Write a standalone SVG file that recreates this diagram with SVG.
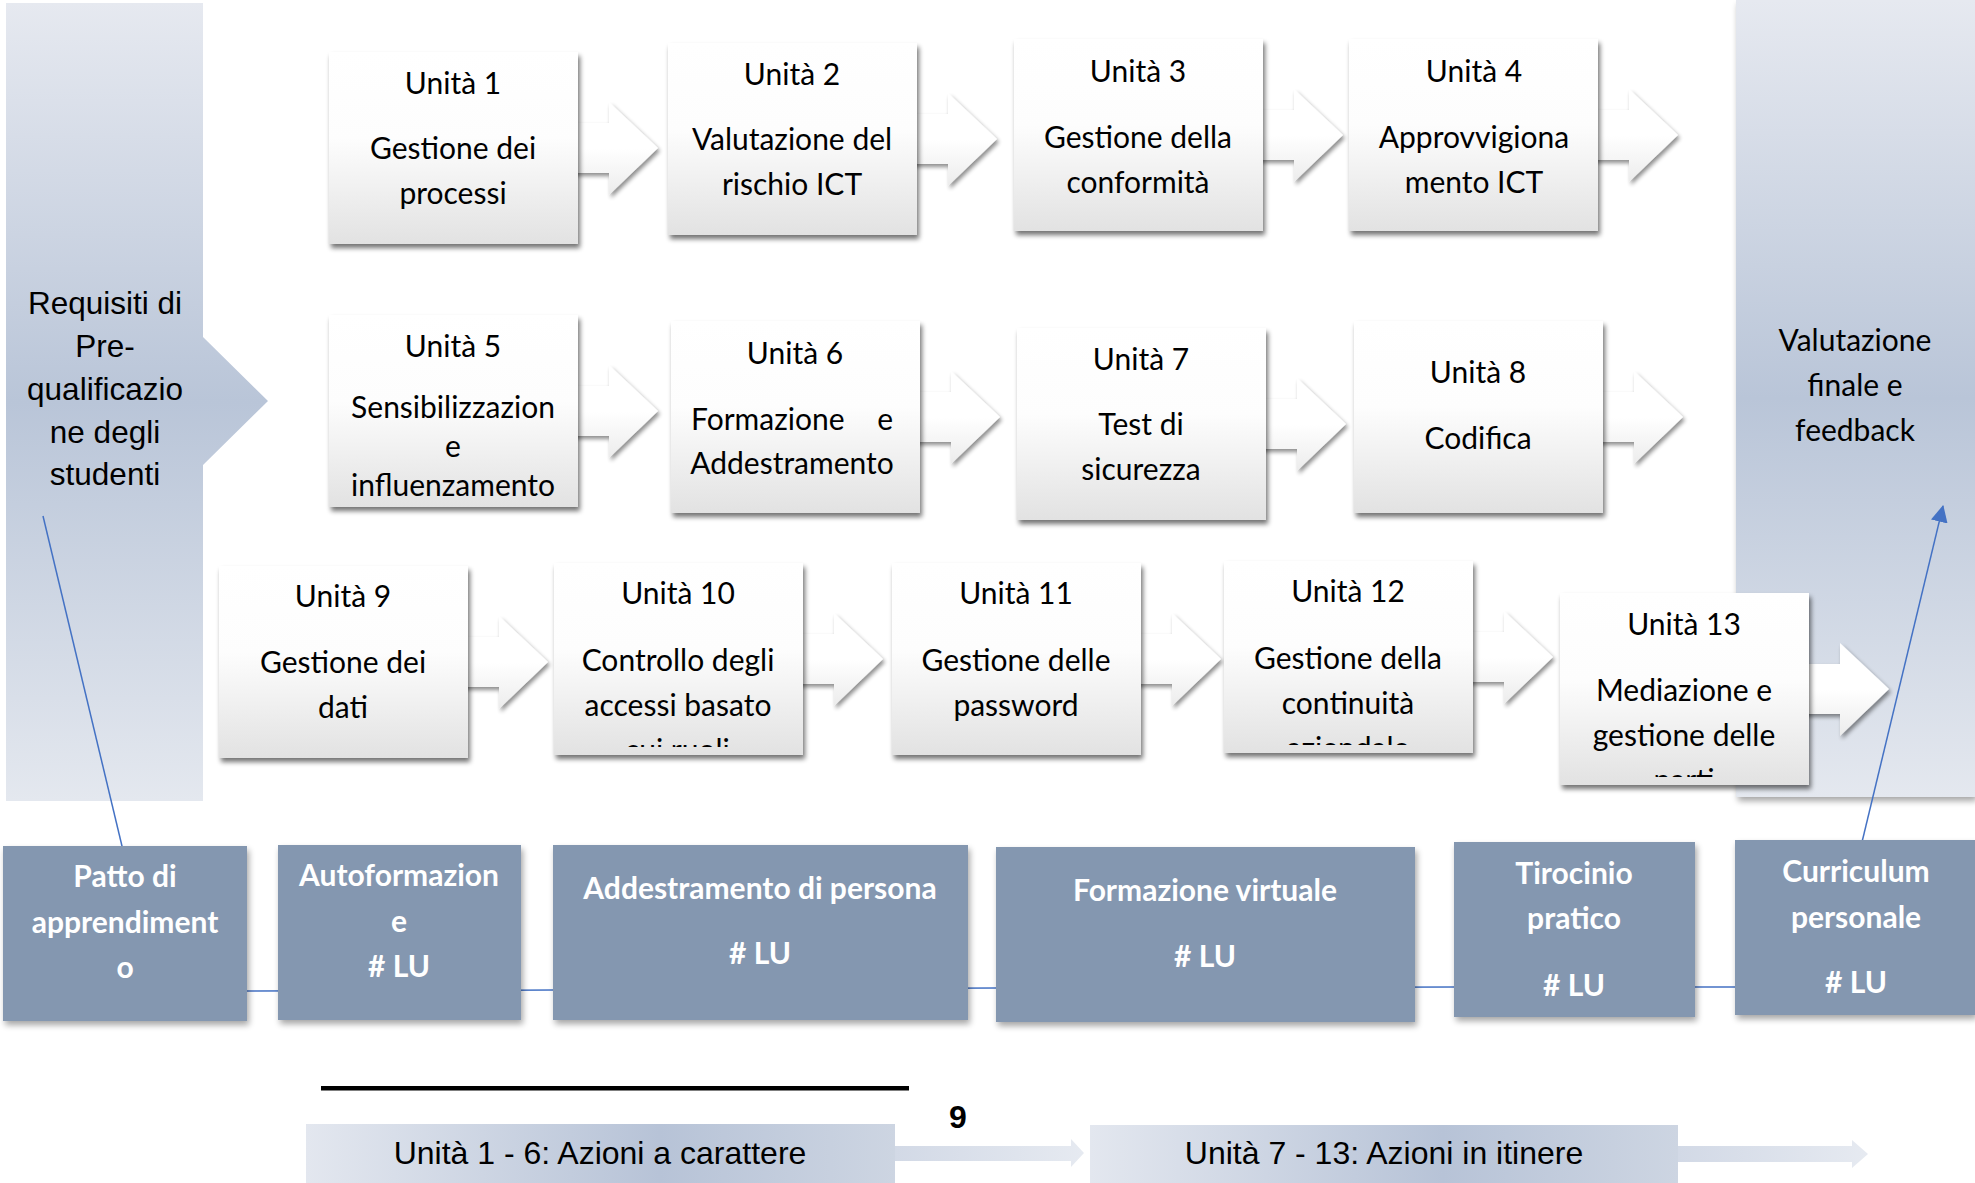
<svg xmlns="http://www.w3.org/2000/svg" width="1975" height="1183" viewBox="0 0 1975 1183">
<style>
.box{fill:url(#boxGrad);filter:url(#shadow);}
.barrow{fill:url(#arrowGrad);filter:url(#shadowArrow);}
.ut{font-family:Lato,"Open Sans",sans-serif;font-size:30px;fill:#000;text-anchor:middle;dominant-baseline:central;}
.pt{font-family:"Liberation Sans",Arial,sans-serif;font-size:31.5px;fill:#000;text-anchor:middle;dominant-baseline:central;}
.bt{font-family:Lato,"Open Sans",sans-serif;font-size:30px;font-weight:bold;fill:#fff;text-anchor:middle;dominant-baseline:central;}
.slate{fill:#8497b0;filter:url(#shadowSoft);}
.ft{font-family:"Liberation Sans",Arial,sans-serif;font-size:32px;fill:#000;text-anchor:middle;dominant-baseline:central;}
.conn{stroke:#4472c4;stroke-width:1.5;fill:none;}
</style>
<defs>
<linearGradient id="boxGrad" x1="0" y1="0" x2="0" y2="1">
<stop offset="0" stop-color="#ffffff"/>
<stop offset="0.45" stop-color="#fdfdfd"/>
<stop offset="1" stop-color="#e2e2e2"/>
</linearGradient>
<linearGradient id="arrowGrad" x1="0" y1="0" x2="0" y2="1">
<stop offset="0" stop-color="#ffffff"/>
<stop offset="0.5" stop-color="#ffffff"/>
<stop offset="1" stop-color="#ececec"/>
</linearGradient>
<linearGradient id="panelGrad" x1="0" y1="0" x2="0" y2="1">
<stop offset="0" stop-color="#e6e9f0"/>
<stop offset="0.5" stop-color="#b9c5d8"/>
<stop offset="1" stop-color="#e4e8ef"/>
</linearGradient>
<linearGradient id="barGrad" x1="0" y1="0" x2="1" y2="0">
<stop offset="0" stop-color="#e3e7ef"/>
<stop offset="0.6" stop-color="#b7c3d7"/>
<stop offset="1" stop-color="#cdd5e2"/>
</linearGradient>
<linearGradient id="lightArrowGrad" x1="0" y1="0" x2="1" y2="0">
<stop offset="0" stop-color="#d2d9e6"/>
<stop offset="1" stop-color="#e6eaf1"/>
</linearGradient>
<filter id="shadow" x="-10%" y="-10%" width="125%" height="130%">
<feGaussianBlur in="SourceAlpha" stdDeviation="2.5"/>
<feOffset dx="2" dy="4" result="o"/>
<feComponentTransfer><feFuncA type="linear" slope="0.55"/></feComponentTransfer>
<feMerge><feMergeNode/><feMergeNode in="SourceGraphic"/></feMerge>
</filter>
<filter id="shadowArrow" x="-15%" y="-15%" width="135%" height="140%">
<feGaussianBlur in="SourceAlpha" stdDeviation="2"/>
<feOffset dx="2" dy="3" result="o"/>
<feComponentTransfer><feFuncA type="linear" slope="0.45"/></feComponentTransfer>
<feMerge><feMergeNode/><feMergeNode in="SourceGraphic"/></feMerge>
</filter>
<filter id="shadowSoft" x="-10%" y="-10%" width="125%" height="130%">
<feGaussianBlur in="SourceAlpha" stdDeviation="3"/>
<feOffset dx="2" dy="4" result="o"/>
<feComponentTransfer><feFuncA type="linear" slope="0.35"/></feComponentTransfer>
<feMerge><feMergeNode/><feMergeNode in="SourceGraphic"/></feMerge>
</filter>
<marker id="arrowBig" viewBox="0 0 16 16" refX="15" refY="8" markerWidth="17" markerHeight="17" markerUnits="userSpaceOnUse" orient="auto">
<path d="M0,0 L16,8 L0,16 z" fill="#4472c4"/>
</marker>
<clipPath id="clip10"><rect x="554" y="563" width="249" height="184"/></clipPath>
<clipPath id="clip12"><rect x="1224" y="561" width="249" height="184"/></clipPath>
<clipPath id="clip13"><rect x="1560" y="593" width="249" height="184"/></clipPath>
</defs>

<rect x="0" y="0" width="1975" height="1183" fill="#ffffff"/>

<!-- side panels -->
<g id="prerequisiti">
<polygon points="6,3 203,3 203,337 268,401 203,465 203,801 6,801" fill="url(#panelGrad)"/>
<text class="pt"><tspan x="105" y="303">Requisiti di</tspan><tspan x="105" y="346">Pre-</tspan><tspan x="105" y="389">qualificazio</tspan><tspan x="105" y="432">ne degli</tspan><tspan x="105" y="474">studenti</tspan></text>
</g>
<g id="valutazione-finale">
<rect x="1736" y="0" width="239" height="797" fill="url(#panelGrad)" filter="url(#shadowSoft)"/>
<text class="ut"><tspan x="1855" y="339">Valutazione</tspan><tspan x="1855" y="384">finale e</tspan><tspan x="1855" y="429">feedback</tspan></text>
</g>

<!-- block arrows between units -->
<g id="flow-arrows">
<polygon class="barrow" points="559,123 609,123 609,102 658,148 609,195 609,173 559,173"/>
<polygon class="barrow" points="898,114 948,114 948,93 997,139 948,186 948,164 898,164"/>
<polygon class="barrow" points="1244,110 1294,110 1294,89 1343,135 1294,182 1294,160 1244,160"/>
<polygon class="barrow" points="1579,110 1629,110 1629,89 1678,135 1629,182 1629,160 1579,160"/>
<polygon class="barrow" points="559,386 609,386 609,365 658,411 609,458 609,436 559,436"/>
<polygon class="barrow" points="901,392 951,392 951,371 1000,417 951,464 951,442 901,442"/>
<polygon class="barrow" points="1247,399 1297,399 1297,378 1346,424 1297,471 1297,449 1247,449"/>
<polygon class="barrow" points="1584,392 1634,392 1634,371 1683,417 1634,464 1634,442 1584,442"/>
<polygon class="barrow" points="449,637 499,637 499,616 548,662 499,709 499,687 449,687"/>
<polygon class="barrow" points="784,634 834,634 834,613 883,659 834,706 834,684 784,684"/>
<polygon class="barrow" points="1122,634 1172,634 1172,613 1221,659 1172,706 1172,684 1122,684"/>
<polygon class="barrow" points="1454,632 1504,632 1504,611 1553,657 1504,704 1504,682 1454,682"/>
<polygon class="barrow" points="1790,664 1840,664 1840,643 1889,689 1840,736 1840,714 1790,714"/>
</g>

<!-- unit boxes -->
<g id="unit1"><rect class="box" x="329" y="52" width="249" height="192"/>
<text class="ut"><tspan x="453" y="82">Unità 1</tspan><tspan x="453" y="147">Gestione dei</tspan><tspan x="453" y="192">processi</tspan></text></g>
<g id="unit2"><rect class="box" x="668" y="43" width="249" height="192"/>
<text class="ut"><tspan x="792" y="73">Unità 2</tspan><tspan x="792" y="138">Valutazione del</tspan><tspan x="792" y="183">rischio ICT</tspan></text></g>
<g id="unit3"><rect class="box" x="1014" y="39" width="249" height="192"/>
<text class="ut"><tspan x="1138" y="70">Unità 3</tspan><tspan x="1138" y="136">Gestione della</tspan><tspan x="1138" y="181">conformità</tspan></text></g>
<g id="unit4"><rect class="box" x="1349" y="39" width="249" height="192"/>
<text class="ut"><tspan x="1474" y="70">Unità 4</tspan><tspan x="1474" y="136">Approvvigiona</tspan><tspan x="1474" y="181">mento ICT</tspan></text></g>

<g id="unit5"><rect class="box" x="329" y="315" width="249" height="192"/>
<text class="ut"><tspan x="453" y="345">Unità 5</tspan><tspan x="453" y="406">Sensibilizzazion</tspan><tspan x="453" y="445">e</tspan><tspan x="453" y="484">influenzamento</tspan></text></g>
<g id="unit6"><rect class="box" x="671" y="321" width="249" height="192"/>
<text class="ut"><tspan x="795" y="352">Unità 6</tspan><tspan x="691" y="418" text-anchor="start">Formazione</tspan><tspan x="893" y="418" text-anchor="end">e</tspan><tspan x="792" y="462">Addestramento</tspan></text></g>
<g id="unit7"><rect class="box" x="1017" y="328" width="249" height="192"/>
<text class="ut"><tspan x="1141" y="358">Unità 7</tspan><tspan x="1141" y="423">Test di</tspan><tspan x="1141" y="468">sicurezza</tspan></text></g>
<g id="unit8"><rect class="box" x="1354" y="321" width="249" height="192"/>
<text class="ut"><tspan x="1478" y="371">Unità 8</tspan><tspan x="1478" y="437">Codifica</tspan></text></g>

<g id="unit9"><rect class="box" x="219" y="566" width="249" height="192"/>
<text class="ut"><tspan x="343" y="595">Unità 9</tspan><tspan x="343" y="661">Gestione dei</tspan><tspan x="343" y="706">dati</tspan></text></g>
<g id="unit10"><rect class="box" x="554" y="563" width="249" height="192"/>
<text class="ut" clip-path="url(#clip10)"><tspan x="678" y="592">Unità 10</tspan><tspan x="678" y="659">Controllo degli</tspan><tspan x="678" y="704">accessi basato</tspan><tspan x="678" y="749">sui ruoli</tspan></text></g>
<g id="unit11"><rect class="box" x="892" y="563" width="249" height="192"/>
<text class="ut"><tspan x="1016" y="592">Unità 11</tspan><tspan x="1016" y="659">Gestione delle</tspan><tspan x="1016" y="704">password</tspan></text></g>
<g id="unit12"><rect class="box" x="1224" y="561" width="249" height="192"/>
<text class="ut" clip-path="url(#clip12)"><tspan x="1348" y="590">Unità 12</tspan><tspan x="1348" y="657">Gestione della</tspan><tspan x="1348" y="702">continuità</tspan><tspan x="1348" y="747">aziendale</tspan></text></g>
<g id="unit13"><rect class="box" x="1560" y="593" width="249" height="192"/>
<text class="ut" clip-path="url(#clip13)"><tspan x="1684" y="623">Unità 13</tspan><tspan x="1684" y="689">Mediazione e</tspan><tspan x="1684" y="734">gestione delle</tspan><tspan x="1684" y="779">parti</tspan></text></g>

<!-- connectors -->
<g id="connectors">
<polyline class="conn" points="247,991 553,990 996,988 1454,987 1735,987"/>
<line class="conn" x1="43" y1="516" x2="127" y2="867"/>
<line class="conn" x1="1856" y1="867" x2="1943" y2="506" marker-end="url(#arrowBig)"/>
</g>

<!-- learning mode boxes -->
<g id="patto"><rect class="slate" x="3" y="846" width="244" height="175"/>
<text class="bt"><tspan x="125" y="875">Patto di</tspan><tspan x="125" y="921">apprendiment</tspan><tspan x="125" y="966">o</tspan></text></g>
<g id="autoformazione"><rect class="slate" x="278" y="845" width="243" height="175"/>
<text class="bt"><tspan x="399" y="874">Autoformazion</tspan><tspan x="399" y="920">e</tspan><tspan x="399" y="965"># LU</tspan></text></g>
<g id="addestramento"><rect class="slate" x="553" y="845" width="415" height="175"/>
<text class="bt"><tspan x="760" y="887">Addestramento di persona</tspan><tspan x="760" y="952"># LU</tspan></text></g>
<g id="formazione-virtuale"><rect class="slate" x="996" y="847" width="419" height="175"/>
<text class="bt"><tspan x="1205" y="889">Formazione virtuale</tspan><tspan x="1205" y="955"># LU</tspan></text></g>
<g id="tirocinio"><rect class="slate" x="1454" y="842" width="241" height="175"/>
<text class="bt"><tspan x="1574" y="872">Tirocinio</tspan><tspan x="1574" y="917">pratico</tspan><tspan x="1574" y="984"># LU</tspan></text></g>
<g id="curriculum"><rect class="slate" x="1735" y="840" width="240" height="175"/>
<text class="bt"><tspan x="1856" y="870">Curriculum</tspan><tspan x="1856" y="916">personale</tspan><tspan x="1856" y="981"># LU</tspan></text></g>

<!-- footer -->
<rect x="321" y="1086" width="588" height="4.5" fill="#000"/>
<text x="958" y="1117" font-family="'Liberation Sans',Arial,sans-serif" font-size="32" font-weight="bold" text-anchor="middle" dominant-baseline="central">9</text>

<g id="azioni-carattere">
<polygon points="895,1146 1071,1146 1071,1139 1084,1153 1071,1167 1071,1161 895,1161" fill="url(#lightArrowGrad)"/>
<rect x="306" y="1124" width="589" height="59" fill="url(#barGrad)"/>
<text class="ft" x="600" y="1153">Unità 1 - 6: Azioni a carattere</text>
</g>
<g id="azioni-itinere">
<polygon points="1678,1146 1852,1146 1852,1140 1868,1154 1852,1168 1852,1162 1678,1162" fill="url(#lightArrowGrad)"/>
<rect x="1090" y="1125" width="588" height="58" fill="url(#barGrad)"/>
<text class="ft" x="1384" y="1153">Unità 7 - 13: Azioni in itinere</text>
</g>
</svg>
